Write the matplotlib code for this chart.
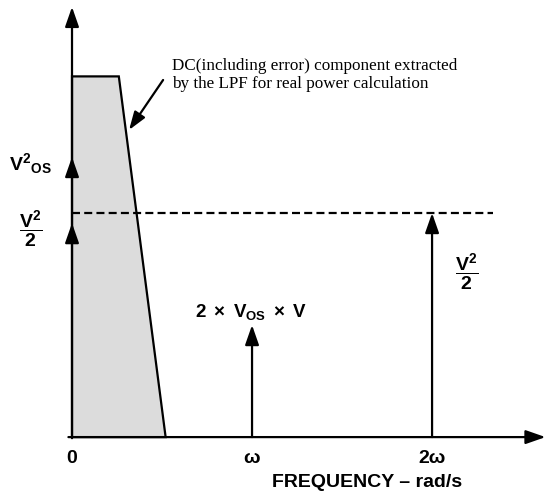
import matplotlib
matplotlib.use('Agg')
import matplotlib.pyplot as plt
from matplotlib.patches import Polygon

plt.rcParams['font.family'] = ['Liberation Sans', 'DejaVu Sans']
plt.rcParams['mathtext.fontset'] = 'custom'
plt.rcParams['mathtext.rm'] = 'Liberation Sans'
plt.rcParams['mathtext.bf'] = 'Liberation Sans:bold'
plt.rcParams['mathtext.it'] = 'Liberation Sans:italic'

# frequency positions (multiples of omega) and tick labels
freq_ticks = [0, 1, 2]
freq_labels = ['0', 'ω', '2ω']

# spectral lines: 2*Vos*V at omega, V^2/2 at 2*omega
line_freqs = [1, 2]
line_amps = [0.5, 1.0]
line_labels = [r'$\mathbf{2\ \times\ V_{OS}\ \times\ V}$', r'$\mathbf{\dfrac{V^2}{2}}$']

# DC component (LPF passband shape)
dc_level = 1.61
lpf_x = [0, 0.26, 0.52, 0]
lpf_y = [dc_level, dc_level, 0, 0]

# levels marked on the vertical axis
half_level = 1.0
vos_arrow = 1.25
half_arrow = 0.955

fig = plt.figure(figsize=(5.48, 4.94), dpi=100)
ax = fig.add_axes([0, 0, 1, 1])
ax.set_xlim(-0.4, 2.644)
ax.set_ylim(-0.254, 1.951)
ax.axis('off')

lw = 1.6
head = dict(arrowstyle='-|>,head_length=1.2,head_width=0.42', color='black', lw=lw,
            shrinkA=0, shrinkB=0)

# gray LPF region
ax.add_patch(Polygon(list(zip(lpf_x, lpf_y)), closed=True, facecolor='#dcdcdc',
                     edgecolor='black', lw=lw, zorder=1))

# axes with arrows
ax.annotate('', xy=(2.63, 0), xytext=(-0.02, 0), arrowprops=head, zorder=3)
ax.annotate('', xy=(0, 1.92), xytext=(0, -0.005), arrowprops=head, zorder=3)

# inline arrowheads on the vertical axis
for lv in [vos_arrow, half_arrow]:
    ax.annotate('', xy=(0, lv), xytext=(0, lv - 0.08), arrowprops=head, zorder=3)

# dashed V^2/2 level
ax.plot([0, 2.34], [half_level, half_level], ls=(0, (3.6, 1.9)), color='black', lw=lw, zorder=2)

# spectral lines
for f, a in zip(line_freqs, line_amps):
    ax.annotate('', xy=(f, a), xytext=(f, 0), arrowprops=head, zorder=3)

ax.text(0.996, 0.536, line_labels[0], ha='center', va='baseline', fontsize=13.5)
ax.text(2.194, 0.741, line_labels[1], ha='center', va='center', fontsize=14)

# y-axis labels
ax.text(-0.233, 1.22, r'$\mathbf{V^{2}{}_{OS}}$', ha='center', va='center', fontsize=14)
ax.text(-0.228, 0.93, r'$\mathbf{\dfrac{V^2}{2}}$', ha='center', va='center', fontsize=14)

# tick labels
for f, lab in zip(freq_ticks, freq_labels):
    ax.text(f, -0.094, lab, ha='center', va='center', fontsize=14, fontweight='bold')

ax.text(1.64, -0.203, 'FREQUENCY – rad/s', ha='center', va='center', fontsize=14,
        fontweight='bold')

# annotation
ax.text(0.555, 1.615, 'DC(including error) component extracted\nby the LPF for real power calculation',
        ha='left', va='center', fontsize=12.3, family='Liberation Serif', linespacing=1.2)
ax.annotate('', xy=(0.317, 1.371), xytext=(0.506, 1.594),
            arrowprops=dict(arrowstyle='-|>,head_length=1.1,head_width=0.38', color='black',
                            lw=lw, shrinkA=0, shrinkB=0))

fig.savefig('out.png', dpi=100)
